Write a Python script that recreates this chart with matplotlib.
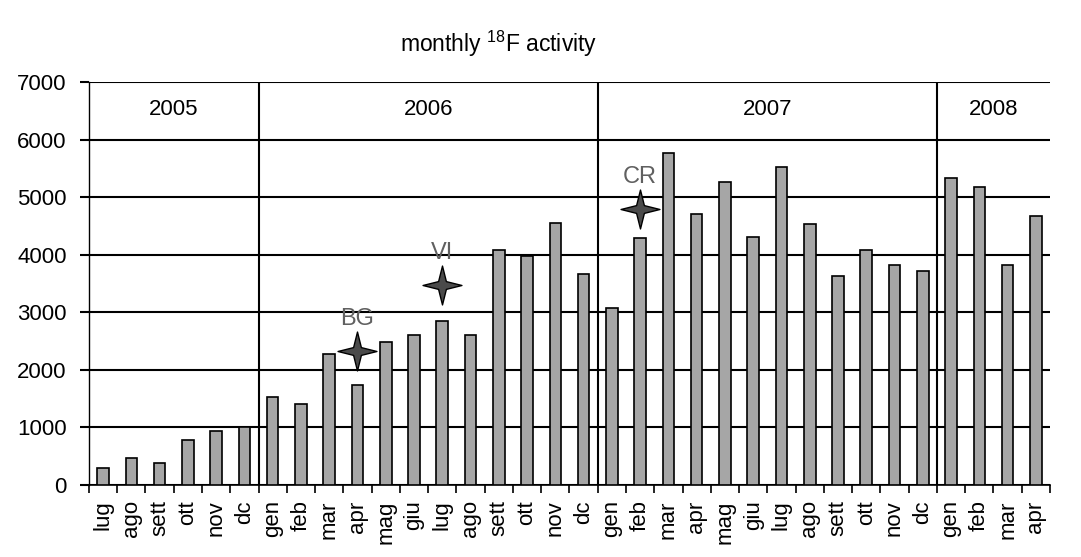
import numpy as np
import matplotlib
matplotlib.use('Agg')
import matplotlib.pyplot as plt
from matplotlib.path import Path

plt.rcParams['font.family'] = ['Liberation Sans', 'DejaVu Sans']
plt.rcParams['mathtext.default'] = 'regular'

# monthly data, lug 2005 .. apr 2008
months = ['lug', 'ago', 'sett', 'ott', 'nov', 'dc',
          'gen', 'feb', 'mar', 'apr', 'mag', 'giu', 'lug', 'ago', 'sett', 'ott', 'nov', 'dc',
          'gen', 'feb', 'mar', 'apr', 'mag', 'giu', 'lug', 'ago', 'sett', 'ott', 'nov', 'dc',
          'gen', 'feb', 'mar', 'apr']
activity = [290, 465, 385, 780, 940, 1000,
            1525, 1405, 2275, 1740, 2490, 2610, 2855, 2610, 4075, 3975, 4545, 3660,
            3070, 4285, 5760, 4700, 5260, 4300, 5515, 4525, 3635, 4075, 3825, 3720,
            5325, 5170, 3825, 4665]
years = ['2005', '2006', '2007', '2008']
months_per_year = [6, 12, 12, 4]

y_ticks = [0, 1000, 2000, 3000, 4000, 5000, 6000, 7000]
y_tick_labels = ['0', '1000', '2000', '3000', '4000', '5000', '6000', '7000']

# events marked with stars: label, month index, level
event_names = ['BG', 'VI', 'CR']
event_slots = [9, 12, 19]
event_levels = [2320, 3470, 4800]

# four pointed star marker
a = 0.2
star = Path([(0, 1), (a, a), (1, 0), (a, -a), (0, -1), (-a, -a), (-1, 0), (-a, a), (0, 1)],
            [Path.MOVETO] + [Path.LINETO] * 7 + [Path.CLOSEPOLY])

fig = plt.figure(figsize=(10.81, 5.57), dpi=100)
ax = fig.add_axes([0.0823, 0.1293, 0.8890, 0.7235])

x = np.arange(len(activity)) + 0.5
ax.bar(x, activity, width=0.41, color='#a6a6a6', edgecolor='black', linewidth=1.2, zorder=3)

ax.set_xlim(0, len(activity))
ax.set_ylim(0, 7000)
ax.set_yticks(y_ticks, y_tick_labels, fontsize=16)
ax.yaxis.grid(True, color='black', linewidth=1.5)
ax.set_axisbelow(True)
ax.tick_params(axis='y', length=6.5, width=1.5, pad=9.5)

ax.set_xticks(np.arange(len(activity) + 1), [''] * (len(activity) + 1))
ax.tick_params(axis='x', which='major', length=6, width=1.2, direction='out')
ax.set_xticks(x, months, minor=True, rotation=90, fontsize=16)
ax.tick_params(axis='x', which='minor', length=0, pad=11)

for side in ['top', 'right']:
    ax.spines[side].set_visible(False)
ax.spines['left'].set_linewidth(1.0)
ax.spines['bottom'].set_linewidth(1.2)

# year separators and labels
edges = np.concatenate([[0], np.cumsum(months_per_year)])
for b in edges[1:-1]:
    ax.axvline(b, color='black', linewidth=1.5, zorder=2)
for i, yr in enumerate(years):
    ax.text((edges[i] + edges[i + 1]) / 2, 6520, yr, ha='center', va='center', fontsize=16)

# event stars
ex = [x[s] for s in event_slots]
ax.plot(ex, event_levels, linestyle='none', marker=star, markersize=28,
        markerfacecolor='#4a4a4a', markeredgecolor='black', markeredgewidth=1, zorder=5)
for name, px, lv in zip(event_names, ex, event_levels):
    ax.annotate(name, (px, lv), xytext=(0, 23), textcoords='offset points',
                ha='center', va='center', color='#606060', fontsize=17)

fig.text(0.461, 0.921, 'monthly $^{18}$F activity', ha='center', va='center', fontsize=16.5)

fig.savefig('out.png', dpi=100)
